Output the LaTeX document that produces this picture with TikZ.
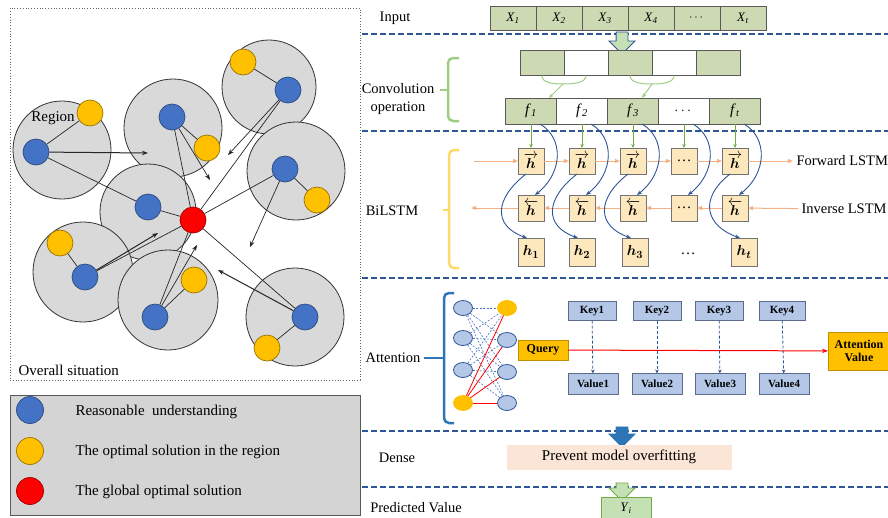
\documentclass[tikz,border=0pt]{standalone}
\usepackage{amsmath}
\usepackage{fontspec}
\setmainfont{Liberation Serif}
\usetikzlibrary{shapes.geometric, shapes.arrows, arrows.meta, positioning}
\definecolor{regiongray}{RGB}{217, 217, 217}
\definecolor{legendgray}{RGB}{212, 212, 212}
\definecolor{pointblue}{RGB}{68, 114, 196}
\definecolor{pointyellow}{RGB}{255, 192, 0}
\definecolor{pointred}{RGB}{255, 0, 0}
\definecolor{sepblue}{RGB}{47, 85, 151}
\definecolor{cellgreen}{RGB}{205, 217, 178}
\definecolor{convgreen}{RGB}{160, 205, 130}
\definecolor{lstmfill}{RGB}{252, 232, 188}
\definecolor{lstmorange}{RGB}{244, 177, 131}
\definecolor{bracketyellow}{RGB}{255, 217, 102}
\definecolor{keyblue}{RGB}{180, 199, 231}
\definecolor{keyborder}{RGB}{90, 108, 138}
\definecolor{densepeach}{RGB}{251, 229, 214}
\definecolor{outgreen}{RGB}{197, 224, 180}
\definecolor{outborder}{RGB}{112, 173, 71}
\definecolor{arrowblue}{RGB}{46, 117, 182}

\begin{document}
\begin{tikzpicture}[
  x=1pt, y=-1pt,
  font=\fontsize{15}{17}\selectfont,
  region/.style={circle, draw=black!80, fill=regiongray, line width=0.8pt, minimum size=98pt, inner sep=0pt},
  spot/.style={circle, line width=0.7pt, minimum size=26pt, inner sep=0pt},
  bluespot/.style={spot, fill=pointblue, draw=pointblue!65!black},
  yellowspot/.style={spot, fill=pointyellow, draw=pointyellow!60!black},
  redspot/.style={spot, fill=pointred, draw=pointred!60!black},
  link/.style={black!85, line width=0.7pt},
  move/.style={link, -{Stealth[length=6pt, width=4.5pt]}},
  sepline/.style={sepblue, line width=1.8pt, dash pattern=on 6pt off 3pt},
  lbl/.style={font=\fontsize{14.5}{18}\selectfont},
  bracket/.style={line width=2.5pt, rounded corners=5pt},
  cell/.style={draw=black!65, line width=0.7pt, inner sep=0pt, outer sep=0pt},
  incell/.style={cell, fill=cellgreen, minimum width=46pt, minimum height=24pt, font=\fontsize{13}{14}\selectfont},
  convcell/.style={cell, minimum width=44pt, minimum height=25pt},
  fcell/.style={cell, minimum width=51pt, minimum height=26pt, font=\fontsize{15}{16}\selectfont},
  lstmbox/.style={cell, draw=black!55, fill=lstmfill, minimum width=26pt, minimum height=26pt},
  outbox/.style={lstmbox, minimum height=28pt},
  fwarrow/.style={lstmorange, line width=1pt, -{Triangle[length=5pt, width=4pt]}},
  lstmcurve/.style={sepblue, line width=0.9pt, -{Stealth[length=5pt, width=4pt]}},
  feed/.style={outborder, line width=0.8pt, -{Stealth[length=4pt, width=3.5pt]}},
  blockarrow/.style={single arrow, rotate=-90, inner sep=0pt, text height=11pt, text depth=0pt, minimum width=25pt, single arrow head extend=7pt, single arrow head indent=0pt, line width=0.9pt},
  neuron/.style={ellipse, minimum width=19pt, minimum height=15pt, inner sep=0pt, line width=0.8pt},
  kv/.style={cell, draw=keyborder, fill=keyblue, font=\fontsize{11}{12}\selectfont\bfseries},
  qbox/.style={cell, draw=pointyellow!75!black, fill=pointyellow, font=\fontsize{12}{13}\selectfont\bfseries}
]
  \useasboundingbox (0,0) rectangle (888,517);

  \node[draw=black!60, dotted, line width=0.8pt, minimum width=350pt, minimum height=372pt] (overall) at (185,194) {};
  \node[anchor=west] (overalltext) at (15,370) {Overall situation};

  \node[region] (r1) at (62,150) {};
  \node[region] (r2) at (173,128) {};
  \node[region, minimum size=94pt] (r3) at (269,87) {};
  \node[region] (r4) at (296,171) {};
  \node[region, minimum size=96pt] (r5) at (148,212) {};
  \node[region, minimum size=100pt] (r6) at (83,272) {};
  \node[region, minimum size=100pt] (r7) at (168,300) {};
  \node[region] (r8) at (295,317) {};

  \node[bluespot] (b1) at (36,152) {};
  \node[yellowspot] (y1) at (90,113) {};
  \node[bluespot] (b2) at (172,117) {};
  \node[yellowspot] (y2) at (207,148) {};
  \node[bluespot] (b3) at (288,90) {};
  \node[yellowspot] (y3) at (243,62) {};
  \node[bluespot] (b4) at (285,169) {};
  \node[yellowspot] (y4) at (317,200) {};
  \node[bluespot] (b5) at (148,207) {};
  \node[bluespot] (b6) at (85,277) {};
  \node[yellowspot] (y6) at (60,243) {};
  \node[bluespot] (b7) at (155,317) {};
  \node[yellowspot] (y7) at (194,280) {};
  \node[bluespot] (b8) at (305,317) {};
  \node[yellowspot] (y8) at (267,348) {};
  \node[redspot] (best) at (193,220) {};
  \node (regiontext) at (53,118) {Region};

  \coordinate (t1) at (148,153);
  \coordinate (t2) at (210,180);
  \coordinate (t3) at (228,155);
  \coordinate (t4) at (250,247);
  \coordinate (t6) at (158,233);
  \coordinate (t7) at (197,245);
  \coordinate (t8) at (218,270);

  \draw[link] (b1) -- (y1);
  \draw[link] (b2) -- (y2);
  \draw[link] (b3) -- (y3);
  \draw[link] (b4) -- (y4);
  \draw[link] (b6) -- (y6);
  \draw[link] (b7) -- (y7);
  \draw[link] (b8) -- (y8);
  \draw[link] (b1) -- (b5);
  \draw[link] (b5) -- (best);
  \draw[link] (b2) -- (best);
  \draw[link] (b3) -- (best);
  \draw[link] (b4) -- (best);
  \draw[link] (b6) -- (best);
  \draw[link] (b7) -- (best);
  \draw[link] (b8) -- (best);
  \draw[move, line width=1pt] (b1) -- (t1);
  \draw[move] (b2) -- (t2);
  \draw[move] (b3) -- (t3);
  \draw[move] (b4) -- (t4);
  \draw[move, line width=1pt] (b6) -- (t6);
  \draw[move] (b7) -- (t7);
  \draw[move, line width=1pt] (b8) -- (t8);

  \node[draw=black!65, fill=legendgray, line width=1pt, minimum width=350pt, minimum height=120pt] (legend) at (185,455) {};
  \node[bluespot, minimum size=27pt] (keyblue) at (30,410) {};
  \node[yellowspot, minimum size=27pt] (keyyellow) at (30,451) {};
  \node[redspot, minimum size=27pt] (keyred) at (30,491) {};
  \node[anchor=west] (keybluetext) at (72,412) {Reasonable\ \ understanding};
  \node[anchor=west] (keyyellowtext) at (72,452) {The optimal solution in the region};
  \node[anchor=west] (keyredtext) at (72,492) {The global optimal solution};

  \draw[sepline] (362,34) -- (888,34);
  \draw[sepline] (362,131) -- (888,131);
  \draw[sepline] (362,278) -- (888,278);
  \draw[sepline] (362,431) -- (888,431);
  \draw[sepline] (362,487) -- (888,487);

  \node[lbl] (input) at (395,18) {Input};
  \node[incell] (x1) at (513,18) {\textit{X}\textsubscript{\textit{1}}};
  \node[incell, right=0pt of x1] (x2) {\textit{X}\textsubscript{\textit{2}}};
  \node[incell, right=0pt of x2] (x3) {\textit{X}\textsubscript{\textit{3}}};
  \node[incell, right=0pt of x3] (x4) {\textit{X}\textsubscript{\textit{4}}};
  \node[incell, right=0pt of x4] (x5) {$\cdots$};
  \node[incell, right=0pt of x5] (x6) {\textit{X}\textsubscript{\textit{t}}};
  \node[blockarrow, fill=outgreen, draw=sepblue, minimum height=22pt] (inarrow) at (622,40) {};

  \node[lbl, align=center] (conv) at (398,99) {Convolution\\operation};
  \draw[convgreen, bracket] (459,58) -- (448,58) -- (448,121) -- (459,121);
  \draw[convgreen, line width=2.5pt] (440,90) -- (448,90);
  \node[convcell, fill=cellgreen] (c1) at (542,63) {};
  \node[convcell, right=0pt of c1] (c2) {};
  \node[convcell, fill=cellgreen, right=0pt of c2] (c3) {};
  \node[convcell, right=0pt of c3] (c4) {};
  \node[convcell, fill=cellgreen, right=0pt of c4] (c5) {};
  \node[fcell, fill=cellgreen] (f1) at (531,111) {\textit{f}\textsubscript{\textit{1}}};
  \node[fcell, right=0pt of f1] (f2) {\textit{f}\textsubscript{\textit{2}}};
  \node[fcell, fill=cellgreen, right=0pt of f2] (f3) {\textit{f}\textsubscript{\textit{3}}};
  \node[fcell, right=0pt of f3] (f4) {$\cdots$};
  \node[fcell, fill=cellgreen, right=0pt of f4] (f5) {\textit{f}\textsubscript{\textit{t}}};
  \coordinate (m1) at (563,84);
  \coordinate (m2) at (652,84);
  \draw[convgreen, line width=1pt] (c1.south) .. controls +(0,7) and +(-12,0) .. (m1);
  \draw[convgreen, line width=1pt] (c2.south) .. controls +(0,7) and +(12,0) .. (m1);
  \draw[convgreen, line width=1pt] (c3.south) .. controls +(0,7) and +(-12,0) .. (m2);
  \draw[convgreen, line width=1pt] (c4.south) .. controls +(0,7) and +(12,0) .. (m2);
  \draw[convgreen, line width=1pt, -{Stealth[length=5pt, width=4pt]}] (m1) -- ([xshift=18pt]f1.north);
  \draw[convgreen, line width=1pt, -{Stealth[length=5pt, width=4pt]}] (m2) -- ([xshift=9pt]f3.north);

  \node[lbl] (bilstm) at (392,211) {BiLSTM};
  \draw[bracketyellow, bracket] (459,150) -- (449,150) -- (449,268) -- (459,268);
  \draw[bracketyellow, line width=2.5pt] (443,210) -- (449,210);
  \node[lstmbox] (hf1) at (531,161) {$\overrightarrow{\boldsymbol{h}}$};
  \node[lstmbox] (hf2) at (582,161) {$\overrightarrow{\boldsymbol{h}}$};
  \node[lstmbox] (hf3) at (633,161) {$\overrightarrow{\boldsymbol{h}}$};
  \node[lstmbox] (hf4) at (684,161) {\ldots};
  \node[lstmbox] (hf5) at (735,161) {$\overrightarrow{\boldsymbol{h}}$};
  \node[lstmbox] (hb1) at (531,208) {$\overleftarrow{\boldsymbol{h}}$};
  \node[lstmbox] (hb2) at (582,208) {$\overleftarrow{\boldsymbol{h}}$};
  \node[lstmbox] (hb3) at (633,208) {$\overleftarrow{\boldsymbol{h}}$};
  \node[lstmbox] (hb4) at (684,208) {\ldots};
  \node[lstmbox] (hb5) at (735,208) {$\overleftarrow{\boldsymbol{h}}$};
  \node[outbox] (h1) at (531,252) {$\boldsymbol{h_1}$};
  \node[outbox] (h2) at (582,252) {$\boldsymbol{h_2}$};
  \node[outbox] (h3) at (635,252) {$\boldsymbol{h_3}$};
  \node (h4) at (688,254) {\ldots};
  \node[outbox] (h5) at (744,252) {$\boldsymbol{h_t}$};
  \node[lbl, anchor=west] (fwtext) at (793,161) {Forward LSTM};
  \node[lbl, anchor=west] (bwtext) at (798,209) {Inverse LSTM};
  \coordinate (fwstart) at (474,161);
  \coordinate (bwend) at (471,208);
  \draw[fwarrow] (fwstart) -- (hf1);
  \draw[fwarrow] (hf1) -- (hf2);
  \draw[fwarrow] (hf2) -- (hf3);
  \draw[fwarrow] (hf3) -- (hf4);
  \draw[fwarrow] (hf4) -- (hf5);
  \draw[fwarrow] (hf5) -- (fwtext);
  \draw[fwarrow] (bwtext) -- (hb5);
  \draw[fwarrow] (hb5) -- (hb4);
  \draw[fwarrow] (hb4) -- (hb3);
  \draw[fwarrow] (hb3) -- (hb2);
  \draw[fwarrow] (hb2) -- (hb1);
  \draw[fwarrow] (hb1) -- (bwend);
  \foreach \i in {1,...,5} {
    \draw[feed] (f\i.south) -- (hf\i.north);
    \draw[lstmcurve] ([xshift=9pt]f\i.south) .. controls +(24,14) and +(28,-22) .. ([xshift=4pt]hb\i.north);
  }
  \foreach \i in {1,2,3,5} {
    \draw[lstmcurve] ([xshift=-5pt]hf\i.south) .. controls +(-32,25) and +(-34,-12) .. ([xshift=-4pt]h\i.north);
  }

  \node[lbl] (att) at (393,358) {Attention};
  \draw[arrowblue, bracket] (454,293) -- (444,293) -- (444,423) -- (454,423);
  \draw[arrowblue, line width=2.5pt] (att.east) -- (444,358);
  \node[neuron, fill=keyblue, draw=sepblue] (n1) at (463,308) {};
  \node[neuron, fill=keyblue, draw=sepblue] (n2) at (463,338) {};
  \node[neuron, fill=keyblue, draw=sepblue] (n3) at (463,370) {};
  \node[neuron, fill=pointyellow, draw=pointyellow] (n4) at (463,403) {};
  \node[neuron, fill=pointyellow, draw=pointyellow] (o1) at (507,308) {};
  \node[neuron, fill=keyblue, draw=sepblue] (o2) at (507,340) {};
  \node[neuron, fill=keyblue, draw=sepblue] (o3) at (507,372) {};
  \node[neuron, fill=keyblue, draw=sepblue] (o4) at (507,403) {};
  \foreach \i in {1,2,3} {
    \foreach \j in {1,...,4} {
      \draw[pointblue, line width=0.6pt, dash pattern=on 2pt off 1.5pt] (n\i) -- (o\j);
    }
  }
  \foreach \j in {1,...,4} {
    \draw[pointred, line width=0.8pt] (n4) -- (o\j);
  }
  \node[qbox, minimum width=50pt, minimum height=20pt] (query) at (543,350) {Query};
  \node[qbox, minimum width=62pt, minimum height=38pt, align=center] (attval) at (859,351) {Attention\\Value};
  \node[kv, minimum width=48pt, minimum height=19pt] (key1) at (592,311) {Key1};
  \node[kv, minimum width=48pt, minimum height=19pt] (key2) at (657,311) {Key2};
  \node[kv, minimum width=48pt, minimum height=19pt] (key3) at (719,311) {Key3};
  \node[kv, minimum width=46pt, minimum height=19pt] (key4) at (782,311) {Key4};
  \node[kv, minimum width=50pt, minimum height=21pt] (val1) at (593,384) {Value1};
  \node[kv, minimum width=50pt, minimum height=21pt] (val2) at (657,384) {Value2};
  \node[kv, minimum width=50pt, minimum height=21pt] (val3) at (720,384) {Value3};
  \node[kv, minimum width=50pt, minimum height=21pt] (val4) at (784,384) {Value4};
  \draw[pointred, line width=1pt, -{Stealth[length=6pt, width=4.5pt]}] (query) -- (attval);
  \draw[sepblue, line width=0.8pt, dash pattern=on 3pt off 2pt, -{Stealth[length=4pt, width=3.5pt]}] (key1) -- (val1);
  \draw[sepblue, line width=0.8pt, dash pattern=on 3pt off 2pt, -{Stealth[length=4pt, width=3.5pt]}] (key2) -- (val2);
  \draw[sepblue, line width=0.8pt, dash pattern=on 3pt off 2pt, -{Stealth[length=4pt, width=3.5pt]}] (key3) -- (val3);
  \draw[sepblue, line width=0.8pt, dash pattern=on 3pt off 2pt, -{Stealth[length=4pt, width=3.5pt]}] (key4) -- (val4);

  \node[blockarrow, fill=arrowblue, draw=arrowblue, minimum height=20pt] (densearrow) at (622,434) {};
  \node[lbl] (dense) at (397,458) {Dense};
  \node[fill=densepeach, minimum width=225pt, minimum height=25pt] (dropout) at (619,457) {Prevent model overfitting};
  \node[blockarrow, fill=outgreen, draw=outborder, minimum height=18pt] (predarrow) at (622,489) {};
  \node[lbl] (pred) at (416,508) {Predicted Value};
  \node[cell, draw=outborder, fill=outgreen, line width=0.8pt, minimum width=50pt, minimum height=21pt, font=\fontsize{13}{14}\selectfont] (yout) at (626,508) {\textit{Y}\textsubscript{\textit{i}}};
\end{tikzpicture}
\end{document}
